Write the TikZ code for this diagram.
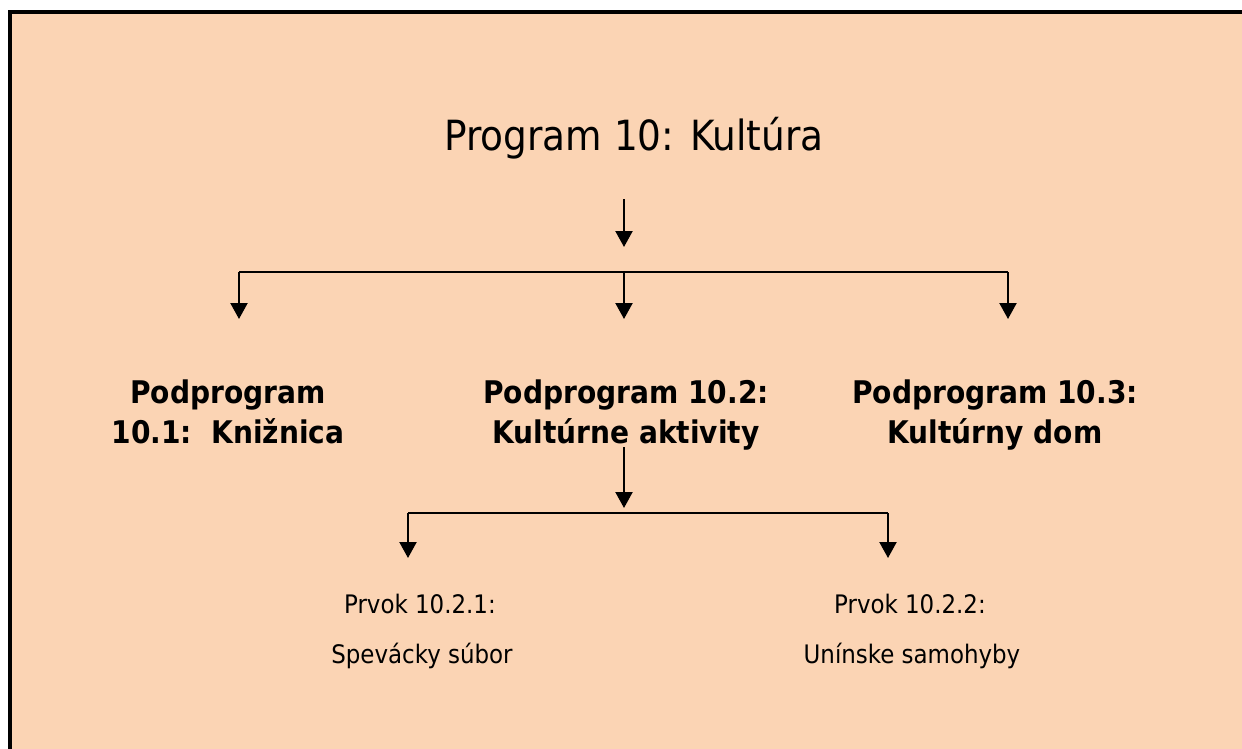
\documentclass[tikz,border=0pt]{standalone}
\usepackage{fontspec}
\setmainfont{DejaVu Sans Condensed}
\usetikzlibrary{arrows.meta}
\definecolor{peach}{HTML}{FBD4B4}
\begin{document}
\begin{tikzpicture}[x=1pt,y=-1pt,
  arr/.style={line width=2.2pt,-{Triangle[width=17pt,length=16pt]}},
  bus/.style={line width=1.8pt},
  ttl/.style={font=\fontsize{41.6}{48}\selectfont,anchor=base,inner sep=0pt},
  sub/.style={font=\fontsize{31.2}{36}\selectfont\bfseries,anchor=base,inner sep=0pt},
  elem/.style={font=\fontsize{25.5}{30}\selectfont,anchor=base,inner sep=0pt}]
\path[use as bounding box] (0,0) rectangle (1242,749);
\clip (0,0) rectangle (1242,749);
\fill[white] (0,0) rectangle (1242,749);
\draw[line width=4pt,fill=peach] (9.5,12.5) rectangle (1270,780);

\node[ttl] (title) at (634,150) {Program 10: Kultúra};

\node[sub] (s1a) at (228,403) {Podprogram};
\node[sub] (s1b) at (228,443) {10.1:~~Knižnica};
\node[sub] (s2a) at (626,403) {Podprogram 10.2:};
\node[sub] (s2b) at (626,443) {Kultúrne aktivity};
\node[sub] (s3a) at (995,403) {Podprogram 10.3:};
\node[sub] (s3b) at (995,443) {Kultúrny dom};

\node[elem] (e1a) at (420,613) {Prvok 10.2.1:};
\node[elem] (e1b) at (422,663) {Spevácky súbor};
\node[elem] (e2a) at (910,613) {Prvok 10.2.2:};
\node[elem] (e2b) at (912,663) {Unínske samohyby};

% top level connectors
\coordinate (t0) at (624,199);
\coordinate (t1) at (624,247);
\coordinate (bl) at (239,272);
\coordinate (bm) at (624,272);
\coordinate (br) at (1008,272);
\coordinate (al) at (239,319);
\coordinate (am) at (624,319);
\coordinate (ar) at (1008,319);
\draw[arr] (t0) -- (t1);
\draw[bus] (bl) -- (br);
\draw[arr] (bl) -- (al);
\draw[arr] (bm) -- (am);
\draw[arr] (br) -- (ar);

% second level connectors
\coordinate (u0) at (624,447);
\coordinate (u1) at (624,508);
\coordinate (cl) at (408,513);
\coordinate (cr) at (888,513);
\coordinate (dl) at (408,558);
\coordinate (dr) at (888,558);
\draw[arr] (u0) -- (u1);
\draw[bus] (cl) -- (cr);
\draw[arr] (cl) -- (dl);
\draw[arr] (cr) -- (dr);
\end{tikzpicture}
\end{document}
